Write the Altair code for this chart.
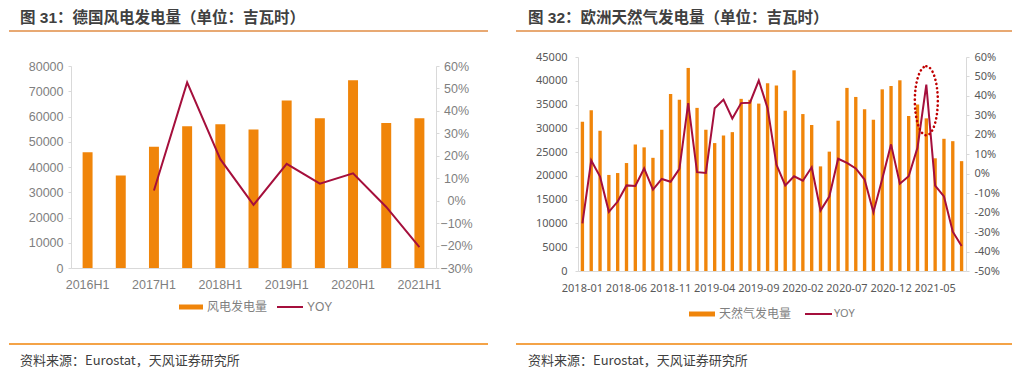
import altair as alt
import pandas as pd

# ---------------- Panel 1 data: German wind generation ----------------
wind_periods = ["2016H1", "2016H2", "2017H1", "2017H2", "2018H1", "2018H2",
                "2019H1", "2019H2", "2020H1", "2020H2", "2021H1"]
wind_gen = [45800, 36600, 48000, 56100, 56900, 54900, 66300, 59300, 74400, 57400, 59300]
wind_yoy = [None, None, 4.5, 52.7, 18.5, -1.9, 16.4, 7.6, 12.2, -2.8, -20.7]
wind_tick_labels = ["2016H1", "2017H1", "2018H1", "2019H1", "2020H1", "2021H1"]
wind_gen_ticks = [0, 10000, 20000, 30000, 40000, 50000, 60000, 70000, 80000]
wind_yoy_ticks = [-30, -20, -10, 0, 10, 20, 30, 40, 50, 60]

# ---------------- Panel 2 data: European gas generation ----------------
gas_months = [
    "2018-01", "2018-02", "2018-03", "2018-04", "2018-05", "2018-06",
    "2018-07", "2018-08", "2018-09", "2018-10", "2018-11", "2018-12",
    "2019-01", "2019-02", "2019-03", "2019-04", "2019-05", "2019-06",
    "2019-07", "2019-08", "2019-09", "2019-10", "2019-11", "2019-12",
    "2020-01", "2020-02", "2020-03", "2020-04", "2020-05", "2020-06",
    "2020-07", "2020-08", "2020-09", "2020-10", "2020-11", "2020-12",
    "2021-01", "2021-02", "2021-03", "2021-04", "2021-05", "2021-06",
    "2021-07", "2021-08"]
gas_gen = [31400, 33800, 29500, 20200, 20600, 22700, 26600, 26000, 23800, 29700, 37200, 36000,
           42700, 34300, 29700, 26900, 28500, 29200, 36200, 36000, 35200, 39500, 39000, 33700,
           42200, 33000, 30700, 22000, 25100, 31600, 38500, 36600, 34000, 31800, 38200, 38900,
           40100, 32600, 35000, 32100, 23700, 27800, 27300, 23100]
gas_yoy = [-25.5, 6.8, -1.5, -19.6, -14.3, -6.0, -6.3, 2.7, -8.2, -2.7, -4.1, 2.5,
           36.3, 0.8, 0.4, 33.7, 38.1, 28.4, 36.3, 36.5, 47.9, 33.7, 4.7, -6.0,
           -1.3, -3.6, 3.3, -18.9, -11.7, 7.7, 5.6, 2.7, -3.0, -19.8, -2.7, 15.1,
           -5.1, -1.3, 13.4, 45.8, -6.1, -11.7, -29.8, -37.2]
gas_tick_labels = ["2018-01", "2018-06", "2018-11", "2019-04", "2019-09",
                   "2020-02", "2020-07", "2020-12", "2021-05"]
gas_gen_ticks = [0, 5000, 10000, 15000, 20000, 25000, 30000, 35000, 40000, 45000]
gas_yoy_ticks = [-50, -40, -30, -20, -10, 0, 10, 20, 30, 40, 50, 60]
highlight_month = ["2021-04"]
highlight_yoy = [37.5]

# ---------------- styles ----------------
ORANGE = "#F0850A"
RED = "#A50F3C"
AXIS_GRAY = "#D9D9D9"
CJK = "Noto Sans CJK SC"
TITLE_FONT = "Liberation Sans, Noto Sans CJK SC"


def deco_text(text, x, y, size, color, weight="normal", font=CJK):
    return alt.Chart(pd.DataFrame({"t": [text]})).mark_text(
        align="left", baseline="middle", fontSize=size, color=color,
        fontWeight=weight, font=font
    ).encode(x=alt.value(x), y=alt.value(y), text="t:N")


def deco_rule(x1, x2, y, color, width):
    return alt.Chart(pd.DataFrame({"t": [0]})).mark_rule(
        color=color, strokeWidth=width
    ).encode(x=alt.value(x1), x2=alt.value(x2), y=alt.value(y))


# ---------------- Panel 1 ----------------
W1, H1 = 365, 211
df1 = pd.DataFrame({"period": wind_periods, "gen": wind_gen, "yoy": wind_yoy})
x1 = alt.X("period:N", sort=wind_periods,
           scale=alt.Scale(domain=wind_periods, paddingInner=0.7, paddingOuter=0.35),
           axis=alt.Axis(values=wind_tick_labels, title=None, labelAngle=0, ticks=False,
                         domainColor=AXIS_GRAY, labelColor="#7F7F7F", labelFontSize=12.5,
                         labelFont="Liberation Sans", labelPadding=10, labelOverlap=False))
bars1 = alt.Chart(df1).mark_bar(color=ORANGE).encode(
    x=x1,
    y=alt.Y("gen:Q", scale=alt.Scale(domain=[0, 80000], range=[H1, 9]),
            axis=alt.Axis(values=wind_gen_ticks, format="d", title=None, grid=False,
                          domainColor=AXIS_GRAY, tickColor=AXIS_GRAY, tickSize=3,
                          labelColor="#7F7F7F", labelFont="Liberation Sans",
                          labelFontSize=12.5, labelPadding=5)))
line1 = alt.Chart(df1).mark_line(color=RED, strokeWidth=2).encode(
    x=x1,
    y=alt.Y("yoy:Q", scale=alt.Scale(domain=[-30, 60], range=[H1, 9]),
            axis=alt.Axis(orient="right", values=wind_yoy_ticks,
                          labelExpr="format(datum.value / 100, '.0%')",
                          title=None, grid=False, domainColor=AXIS_GRAY, tickColor=AXIS_GRAY,
                          tickSize=3, labelColor="#7F7F7F", labelFont="Liberation Sans",
                          labelFontSize=12.5, labelAlign="center", labelPadding=17)))

panel1 = alt.layer(
    bars1, line1,
    deco_text("图 31：德国风电发电量（单位：吉瓦时）", -51, -39.5, 15.5, "#404040", "bold",
              font=TITLE_FONT),
    deco_rule(-62, 417, -26, "#E08C45", 1.3),
    deco_rule(108, 132, 250, ORANGE, 5),
    deco_text("风电发电量", 136, 250, 12, "#7F7F7F"),
    deco_rule(206, 232, 250, RED, 2),
    deco_text("YOY", 236, 250, 12, "#7F7F7F", font="Liberation Sans"),
    deco_rule(-62, 417, 287, ORANGE, 1.5),
    deco_text("资料来源：Eurostat，天风证券研究所", -51, 304, 13, "#404040"),
).resolve_scale(y="independent").properties(width=W1, height=H1)

# ---------------- Panel 2 ----------------
W2, H2 = 388, 214
df2 = pd.DataFrame({"month": gas_months, "gen": gas_gen, "yoy": gas_yoy})
df2h = pd.DataFrame({"month": highlight_month, "yoy": highlight_yoy})
x2 = alt.X("month:N", sort=gas_months,
           scale=alt.Scale(domain=gas_months, paddingInner=0.62, paddingOuter=0.31),
           axis=alt.Axis(values=gas_tick_labels, title=None, labelAngle=0, ticks=False,
                         domainColor=AXIS_GRAY, labelColor="#595959", labelFontSize=11,
                         labelFont="Noto Sans", labelPadding=11, labelOverlap=False))
bars2 = alt.Chart(df2).mark_bar(color=ORANGE).encode(
    x=x2,
    y=alt.Y("gen:Q", scale=alt.Scale(domain=[0, 45000]),
            axis=alt.Axis(values=gas_gen_ticks, format="d", title=None, grid=False,
                          domainColor=AXIS_GRAY, tickColor=AXIS_GRAY, tickSize=3,
                          labelColor="#595959", labelFont="Noto Sans",
                          labelFontSize=11, labelPadding=8)))
line2 = alt.Chart(df2).mark_line(color=RED, strokeWidth=2).encode(
    x=x2,
    y=alt.Y("yoy:Q", scale=alt.Scale(domain=[-50, 60]),
            axis=alt.Axis(orient="right", values=gas_yoy_ticks,
                          labelExpr="datum.value + '%'",
                          title=None, grid=False, domainColor=AXIS_GRAY, tickColor=AXIS_GRAY,
                          tickSize=3, labelColor="#595959", labelFont="Noto Sans",
                          labelFontSize=11, labelAlign="left", labelPadding=5)))
ellipse = alt.Chart(df2h).mark_point(
    shape="M0,-1 A0.333,1 0 1,1 0,1 A0.333,1 0 1,1 0,-1 Z",
    size=4761, filled=False, color="#C00000", strokeWidth=2.6, opacity=1,
    strokeDash=[0.1, 4.2], strokeCap="round"
).encode(
    x=alt.X("month:N", sort=gas_months, scale=alt.Scale(domain=gas_months)),
    y=alt.Y("yoy:Q", scale=alt.Scale(domain=[-50, 60]), axis=None))

panel2 = alt.layer(
    bars2, line2, ellipse,
    deco_text("图 32：欧洲天然气发电量（单位：吉瓦时）", -50, -39.5, 15.5, "#404040", "bold",
              font=TITLE_FONT),
    deco_rule(-62, 434, -26, "#E08C45", 1.3),
    deco_rule(111, 137, 257, ORANGE, 5),
    deco_text("天然气发电量", 141, 257, 12, "#7F7F7F"),
    deco_rule(227, 254, 257, RED, 2),
    deco_text("YOY", 256, 257, 11, "#7F7F7F", font="Noto Sans"),
    deco_rule(-62, 434, 287, ORANGE, 1.5),
    deco_text("资料来源：Eurostat，天风证券研究所", -50, 304, 13, "#404040"),
).resolve_scale(y="independent").properties(width=W2, height=H2)

chart = alt.hconcat(panel1, panel2, spacing=142, bounds="flush").properties(
    padding={"left": 0, "top": 2, "right": 5, "bottom": 5}
).configure_view(stroke=None)

chart.save("out.html", embed_options={"renderer": "svg", "actions": False})
